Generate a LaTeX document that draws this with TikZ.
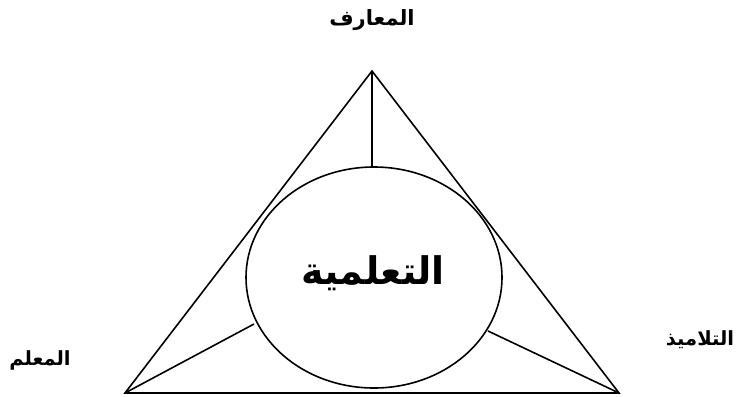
\documentclass[tikz,border=0pt]{standalone}
\usepackage{fontspec}
\usetikzlibrary{shapes.geometric}
\newfontfamily\arabicfont[Script=Arabic]{DejaVu Sans}
\TeXXeTstate=1
\begin{document}
\begin{tikzpicture}[x=1pt,y=-1pt,
  shape line/.style={draw=black,line width=1.6pt},
  label ar/.style={font=\arabicfont\bfseries\fontsize{21}{24}\selectfont,inner sep=0pt},
  side ar/.style={font=\arabicfont\bfseries\fontsize{19.5}{23}\selectfont,inner sep=0pt},
  big ar/.style={font=\arabicfont\bfseries\fontsize{38}{44}\selectfont,inner sep=0pt}]
\useasboundingbox (0,0) rectangle (738,396);
\coordinate (apex) at (372,71);
\coordinate (bl) at (125,393);
\coordinate (br) at (619,393);
\draw[shape line,line join=miter] (apex) -- (bl) -- (br) -- cycle;
\node[shape line,ellipse,minimum width=256,minimum height=221,inner sep=0pt,fill=white] (center) at (374,277.5) {};
\coordinate (etop) at (372,167);
\coordinate (eleft) at (254,324);
\coordinate (eright) at (488,331);
\draw[shape line] (apex) -- (etop);
\draw[shape line] (bl) -- (eleft);
\draw[shape line] (br) -- (eright);
\node[big ar] (t1) at (373,273) {\beginR التعلمية\endR};
\node[label ar] (t2) at (372,20) {\beginR المعارف\endR};
\node[side ar] (t3) at (40,360) {\beginR المعلم\endR};
\node[side ar] (t4) at (700,340) {\beginR التلاميذ\endR};
\end{tikzpicture}
\end{document}
